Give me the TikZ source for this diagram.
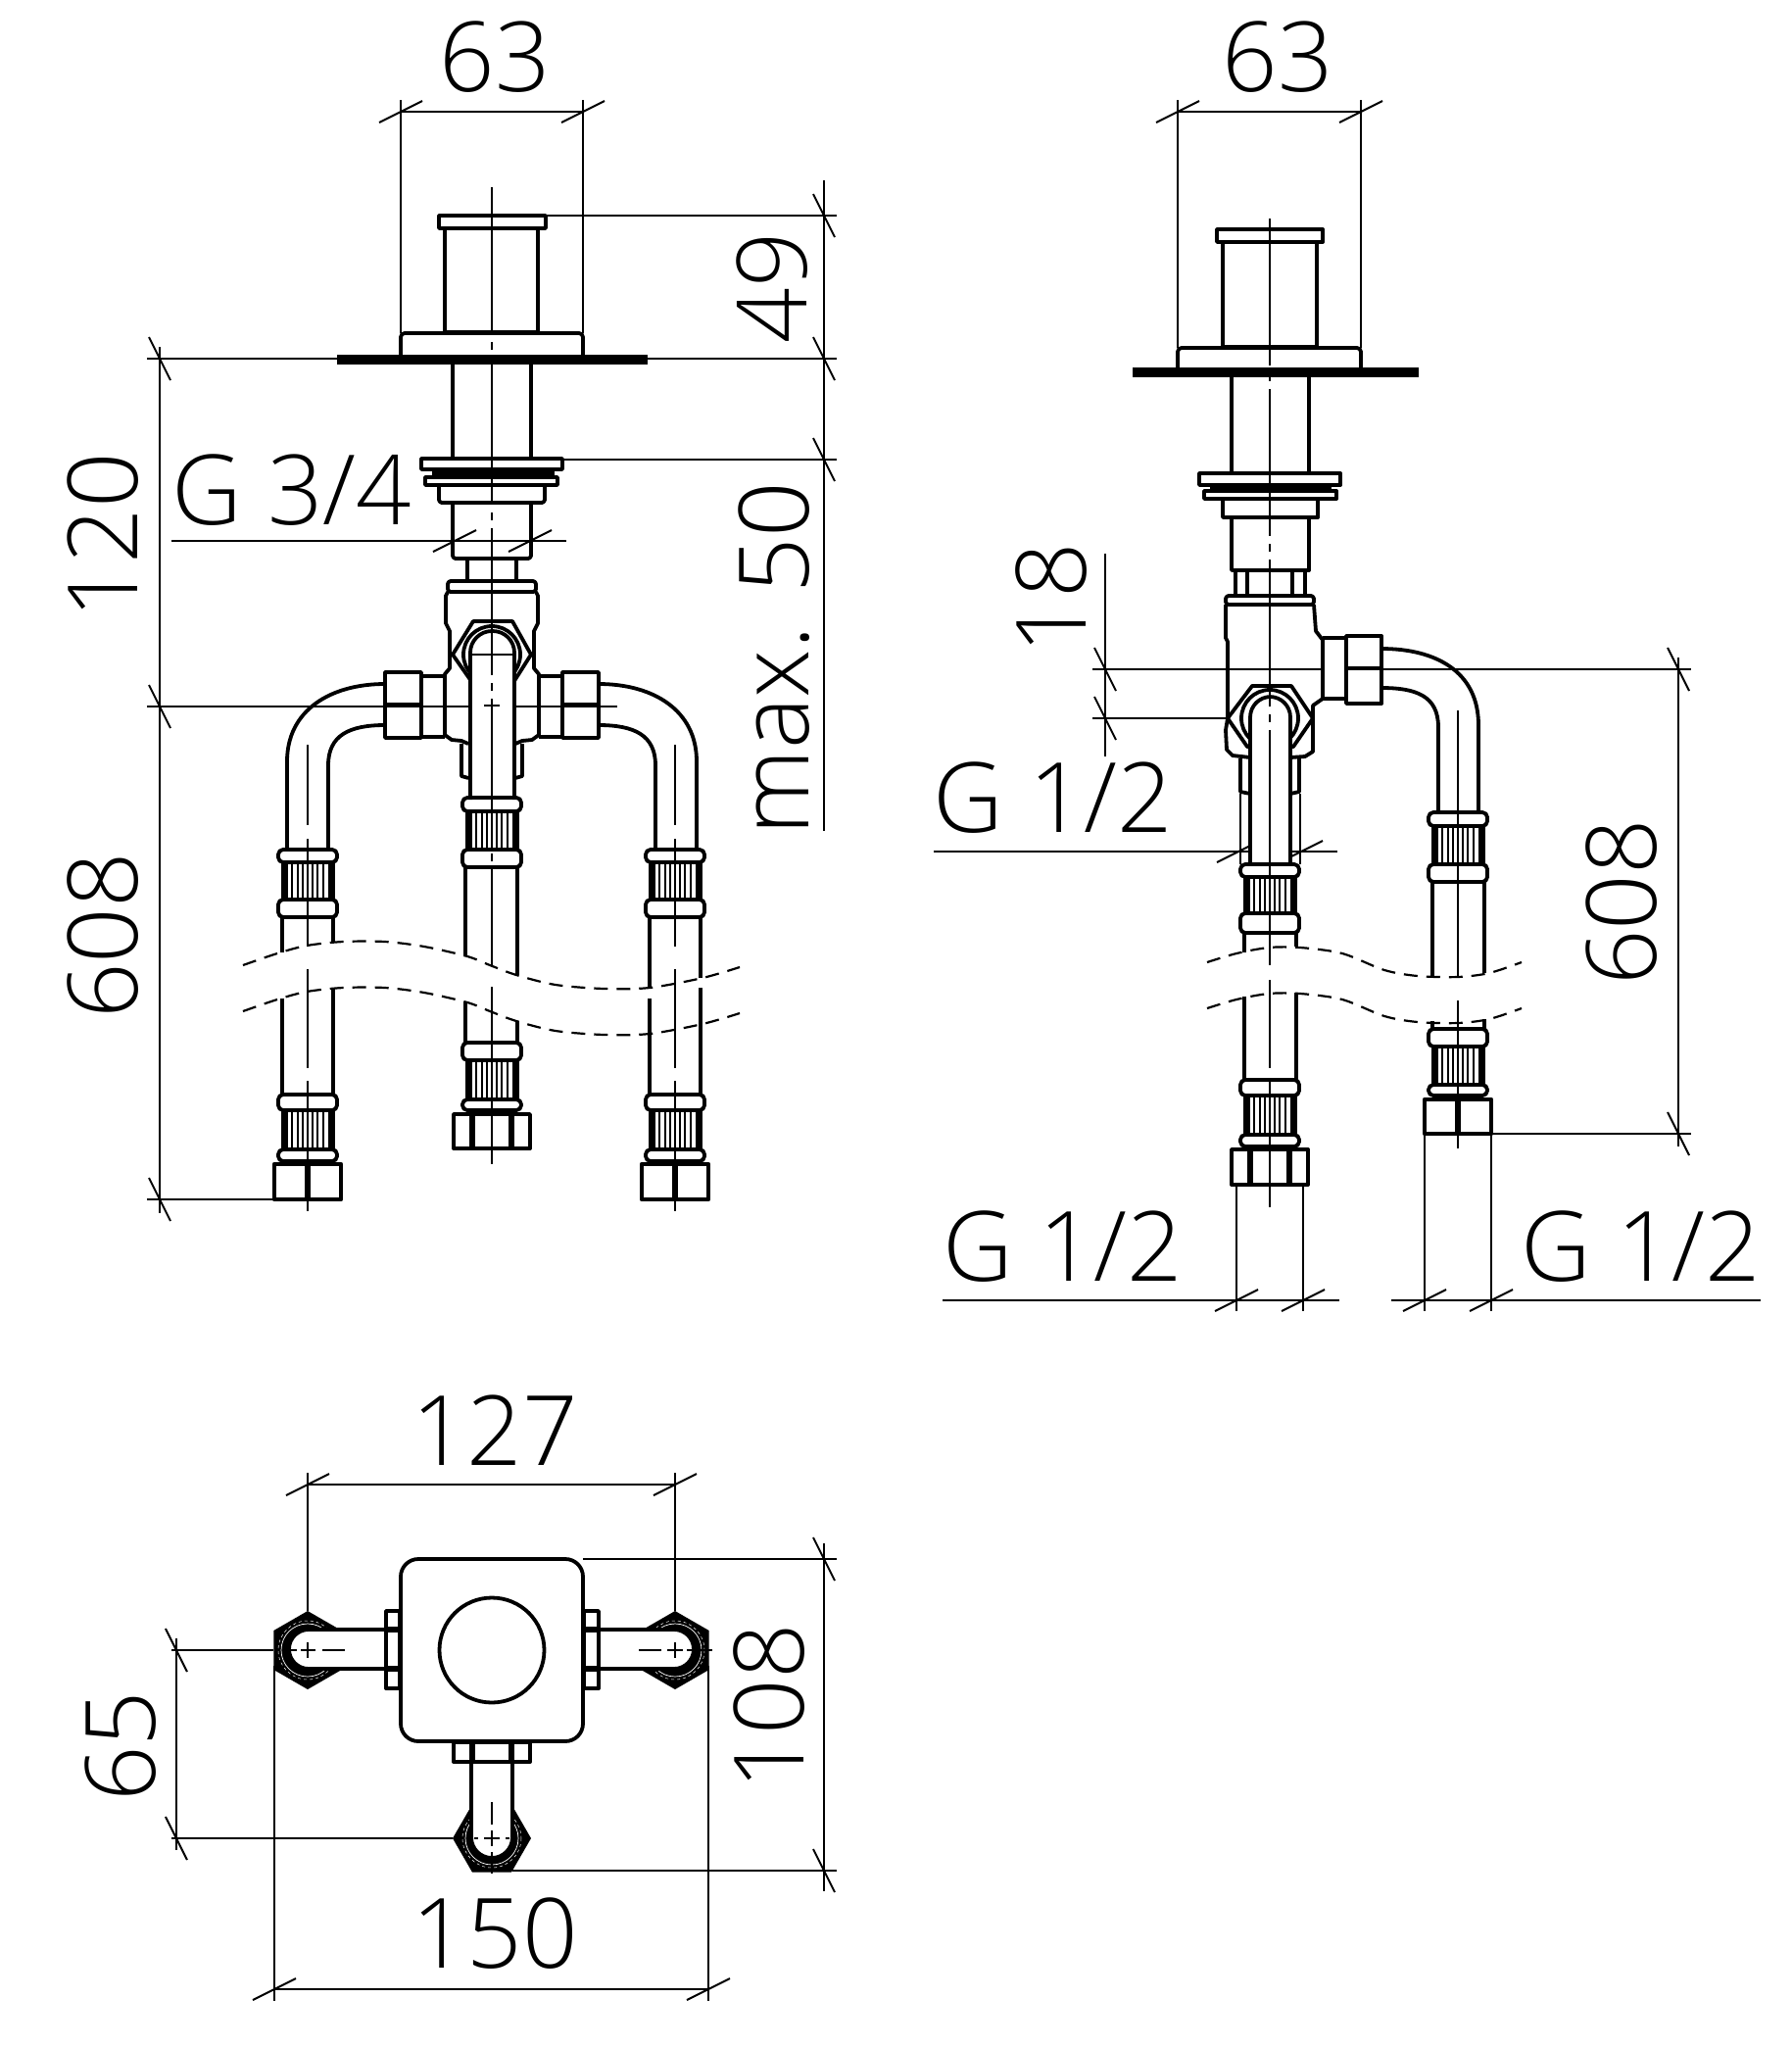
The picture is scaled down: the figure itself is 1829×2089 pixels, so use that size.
\documentclass[tikz,border=0pt]{standalone}
\usepackage{fontspec}
\newfontfamily\dimfont{Open Sans}[UprightFont=* Light]
\tikzset{
	part/.style={line width=3.8pt,line join=round},
	dimline/.style={line width=2pt},
	axisline/.style={line width=2pt},
	breakline/.style={line width=2.2pt,dash pattern=on 14pt off 9pt},
	dimtext/.style={font=\dimfont\fontsize{99}{99}\selectfont,inner sep=0pt}
}
% ticks of the dimension lines
\newcommand{\tickh}[2]{\draw[dimline] (#1-22,#2+11) -- (#1+22,#2-11);}
\newcommand{\tickv}[2]{\draw[dimline] (#1-11,#2-22) -- (#1+11,#2+22);}
% hose fittings: centre x, top y, bottom y
\newcommand{\ringpart}[3]{\draw[part,rounded corners=5pt] (#1-30,#2) rectangle (#1+30,#3);}
\newcommand{\knurlpart}[3]{
	\draw[line width=7pt] (#1-24,#2) -- (#1-24,#3) (#1+24,#2) -- (#1+24,#3);
	\foreach \kx in {-16,-10,-5,0,5,10,16}{\draw[line width=2.8pt] (#1+\kx,#2) -- (#1+\kx,#3);}
}
\newcommand{\nutflat}[3]{
	\draw[part,line width=4.5pt] (#1-34,#2) rectangle (#1+34,#3);
	\draw[line width=6pt] (#1,#2) -- (#1,#3);
}
\newcommand{\nutwide}[3]{
	\draw[part] (#1-39,#2) rectangle (#1+39,#3);
	\draw[line width=6pt] (#1-20,#2) -- (#1-20,#3) (#1+20,#2) -- (#1+20,#3);
}
% hexagon of the top view: centre x, centre y, start angle
\newcommand{\hexnut}[3]{
	\fill (#1,#2) +(#3:40) -- +(#3+60:40) -- +(#3+120:40) -- +(#3+180:40) -- +(#3+240:40) -- +(#3+300:40) -- cycle;
	\draw[white,line width=.7pt] (#1,#2) circle[radius=27];
	\draw[white,line width=.5pt,dashed] (#1,#2) circle[radius=30];
}
\begin{document}
\begin{tikzpicture}[x=1pt,y=-1pt]
	\useasboundingbox (0,0) rectangle (1829,2089);
	% dimensions of the front view
	\draw[dimline] (409,102) -- (409,340) (595,102) -- (595,340) (409,114) -- (595,114);
	\tickh{409}{114} \tickh{595}{114}
	\node[dimtext] (widthl) at (505,58) {63};
	\draw[dimline] (841,184) -- (841,848) (557,220) -- (854,220) (661,366) -- (854,366) (574,469) -- (854,469);
	\tickv{841}{220} \tickv{841}{366} \tickv{841}{469}
	\node[dimtext,rotate=90] (heightcap) at (788,294) {49};
	\node[dimtext,rotate=90] (heightmax) at (790,672) {max. 50};
	\draw[dimline] (163,354) -- (163,1238) (150,366) -- (344,366) (150,721) -- (480,721) (525,721) -- (630,721) (150,1224) -- (280,1224);
	\tickv{163}{366} \tickv{163}{721} \tickv{163}{1224}
	\node[dimtext,rotate=90] (heightbody) at (105,547) {120};
	\node[dimtext,rotate=90] (lengthl) at (105,955) {608};
	\draw[dimline] (175,552) -- (578,552);
	\tickh{464}{552} \tickh{541}{552}
	\node[dimtext] (threadl) at (298,500) {G 3/4};
	% front view
	\draw[part] (448,220) rectangle (557,233);
	\draw[part] (454,233) rectangle (549,339);
	\draw[part,rounded corners=4pt] (409,362) -- (409,340) -- (595,340) -- (595,362);
	\fill (344,362) rectangle (661,372);
	\draw[part] (462,372) -- (462,468) (542,372) -- (542,468);
	\draw[part] (430,468) rectangle (574,479);
	\fill (441,479) rectangle (566,487);
	\draw[part] (434,487) rectangle (569,495);
	\draw[part,rounded corners=3pt] (448,495) -- (448,513) -- (556,513) -- (556,495);
	\draw[part,rounded corners=3pt] (462,513) -- (462,570) -- (542,570) -- (542,513);
	\draw[part] (477,570) -- (477,593) (527,570) -- (527,593);
	\draw[part,rounded corners=3pt] (457,604) -- (457,593) -- (547,593) -- (547,604) -- cycle;
	\foreach \sx in {-1,1}{
		\draw[part] (502+\sx*45,604) -- (502+\sx*47,608) -- (502+\sx*47,636) -- (502+\sx*43,644) -- (502+\sx*43,682) -- (502+\sx*48,688) -- (502+\sx*48,750) -- (502+\sx*41,755) -- (502+\sx*31,756) -- (502+\sx*24,759);
		\draw[part] (502+\sx*72,690) -- (502+\sx*48,690) (502+\sx*72,752) -- (502+\sx*48,752);
		\draw[part] (502+\sx*109,686) rectangle (502+\sx*72,753);
		\draw[part,line width=4.5pt] (502+\sx*109,719) -- (502+\sx*72,719);
		\draw[part] (502+\sx*109,698) .. controls (502+\sx*165,698) and (502+\sx*209,725) .. (502+\sx*209,777) -- (502+\sx*209,867);
		\draw[part] (502+\sx*109,740) .. controls (502+\sx*145,740) and (502+\sx*167,750) .. (502+\sx*167,781) -- (502+\sx*167,867);
		\draw[part] (502+\sx*31,759) -- (502+\sx*31,792) -- (502+\sx*24,794);
	}
	\draw[part,fill=white] (462,668) -- (483,634) -- (523,634) -- (542,668) -- (523,698) -- (483,698) -- cycle;
	\draw[part] (502,668) circle[radius=29];
	\draw[part,fill=white,rounded corners=22pt] (480,816) -- (480,644) -- (525,644) -- (525,816);
	\foreach \cx in {314,689}{
		\ringpart{\cx}{867}{880}
		\knurlpart{\cx}{880}{918}
		\ringpart{\cx}{918}{936}
		\draw[part] (\cx-26,1117) -- (\cx-26,1019) (\cx+26,1117) -- (\cx+26,1008);
		\ringpart{\cx}{1117}{1133}
		\knurlpart{\cx}{1133}{1173}
		\ringpart{\cx}{1173}{1185}
		\nutflat{\cx}{1188}{1224}
		\draw[axisline] (\cx,760) -- (\cx,842) (\cx,856) -- (\cx,966) (\cx,989) -- (\cx,1090) (\cx,1103) -- (\cx,1236);
	}
	\draw[part] (288,936) -- (288,972) (340,936) -- (340,962);
	\draw[part] (663,936) -- (663,1008) (715,936) -- (715,998);
	\ringpart{502}{814}{828}
	\knurlpart{502}{828}{867}
	\ringpart{502}{867}{885}
	\draw[part] (475,885) -- (475,976) (528,885) -- (528,995) (475,1022) -- (475,1064) (528,1042) -- (528,1064);
	\ringpart{502}{1064}{1082}
	\knurlpart{502}{1082}{1122}
	\ringpart{502}{1122}{1133}
	\nutwide{502}{1137}{1172}
	\draw[axisline,dash pattern=on 150pt off 8pt on 8pt off 8pt] (502,191) -- (502,985);
	\draw[axisline] (502,1007) -- (502,1188);
	\draw[axisline] (478,668) -- (526,668);
	\draw[axisline] (494,720) -- (510,720);
	\foreach \dy in {0,47}{
		\draw[breakline] plot[smooth] coordinates {(248,985+\dy) (283,973+\dy) (313,965+\dy) (350,961+\dy) (393,961+\dy) (433,966+\dy) (477,976+\dy) (500,985+\dy) (527,995+\dy) (567,1005+\dy) (617,1009+\dy) (663,1008+\dy) (717,998+\dy) (755,987+\dy)};
	}
	% dimensions of the side view
	\draw[dimline] (1202,102) -- (1202,355) (1389,102) -- (1389,355) (1202,114) -- (1389,114);
	\tickh{1202}{114} \tickh{1389}{114}
	\node[dimtext] (widthr) at (1304,58) {63};
	\draw[dimline] (1128,565) -- (1128,772) (1115,683) -- (1350,683) (1410,683) -- (1726,683) (1115,733) -- (1330,733);
	\tickv{1128}{683} \tickv{1128}{733}
	\node[dimtext,rotate=90] (offsetr) at (1073,611) {18};
	\draw[dimline] (953,869) -- (1365,869);
	\tickh{1264}{869} \tickh{1328}{869}
	\node[dimtext] (threadr) at (1075,814) {G 1/2};
	\draw[dimline] (1713,671) -- (1713,1170) (1523,1157) -- (1726,1157);
	\tickv{1713}{683} \tickv{1713}{1157}
	\node[dimtext,rotate=90] (lengthr) at (1655,921) {608};
	\draw[dimline] (1262,1209) -- (1262,1338) (1330,1209) -- (1330,1338) (962,1327) -- (1367,1327);
	\tickh{1262}{1327} \tickh{1330}{1327}
	\node[dimtext] (threadb) at (1085,1272) {G 1/2};
	\draw[dimline] (1454,1157) -- (1454,1338) (1522,1157) -- (1522,1338) (1420,1327) -- (1797,1327);
	\tickh{1454}{1327} \tickh{1522}{1327}
	\node[dimtext] (threadc) at (1675,1272) {G 1/2};
	% side view
	\draw[part] (1242,234) rectangle (1350,247);
	\draw[part] (1248,247) rectangle (1344,354);
	\draw[part,rounded corners=4pt] (1202,375) -- (1202,355) -- (1389,355) -- (1389,375);
	\fill (1156,375) rectangle (1448,385);
	\draw[part] (1257,385) -- (1257,483) (1336,385) -- (1336,483);
	\draw[part] (1224,483) rectangle (1368,495);
	\fill (1235,495) rectangle (1359,501);
	\draw[part] (1229,501) rectangle (1364,509);
	\draw[part] (1248,509) -- (1248,528) -- (1345,528) -- (1345,509);
	\draw[part] (1257,528) -- (1257,582) -- (1336,582) -- (1336,528);
	\draw[part] (1261,582) -- (1261,608) (1273,582) -- (1273,608) (1319,582) -- (1319,608) (1332,582) -- (1332,608);
	\draw[part,rounded corners=3pt] (1251,617) -- (1251,608) -- (1341,608) -- (1341,617) -- cycle;
	\draw[part] (1251,617) -- (1251,651) -- (1253,655) -- (1253,733) -- (1251,745) -- (1252,765) -- (1258,771) -- (1276,773);
	\draw[part] (1341,617) -- (1343,644) -- (1350,653) -- (1350,713) -- (1340,720) -- (1340,767) -- (1332,772) -- (1317,773);
	\draw[part] (1350,651) -- (1373,651) (1350,713) -- (1373,713);
	\draw[part] (1374,649) rectangle (1410,718);
	\draw[part,line width=4.5pt] (1374,682) -- (1410,682);
	\draw[part] (1410,662) .. controls (1465,662) and (1509,685) .. (1509,740) -- (1509,829);
	\draw[part] (1410,702) .. controls (1445,702) and (1468,710) .. (1468,742) -- (1468,829);
	\draw[part] (1266,774) -- (1266,808) -- (1276,810) (1326,774) -- (1326,808) -- (1317,810);
	\draw[dimline] (1266,810) -- (1266,882) (1327,810) -- (1327,882);
	\draw[part,fill=white] (1253,733) -- (1278,700) -- (1318,700) -- (1340,733) -- (1320,762) -- (1273,762) -- cycle;
	\draw[part] (1296,733) circle[radius=29];
	\draw[part,fill=white,rounded corners=21pt] (1276,883) -- (1276,711) -- (1317,711) -- (1317,883);
	\ringpart{1296}{882}{895}
	\knurlpart{1296}{895}{932}
	\ringpart{1296}{932}{952}
	\draw[part] (1270,952) -- (1270,972) (1323,952) -- (1323,966) (1270,1017) -- (1270,1102) (1323,1013) -- (1323,1102);
	\ringpart{1296}{1102}{1118}
	\knurlpart{1296}{1118}{1158}
	\ringpart{1296}{1158}{1170}
	\nutwide{1296}{1173}{1209}
	\ringpart{1488}{829}{843}
	\knurlpart{1488}{843}{882}
	\ringpart{1488}{882}{900}
	\draw[part] (1462,900) -- (1462,998) (1515,900) -- (1515,993) (1462,1042) -- (1462,1050) (1515,1040) -- (1515,1050);
	\ringpart{1488}{1050}{1068}
	\knurlpart{1488}{1068}{1107}
	\ringpart{1488}{1107}{1118}
	\nutflat{1488}{1122}{1157}
	\draw[axisline,dash pattern=on 150pt off 8pt on 8pt off 8pt] (1296,223) -- (1296,985);
	\draw[axisline] (1296,1000) -- (1296,1090) (1296,1103) -- (1296,1232);
	\draw[axisline] (1488,725) -- (1488,860) (1488,872) -- (1488,997) (1488,1021) -- (1488,1172);
	\foreach \dy in {0,47}{
		\draw[breakline] plot[smooth] coordinates {(1232,982+\dy) (1262,973+\dy) (1295,967+\dy) (1327,967+\dy) (1370,973+\dy) (1413,990+\dy) (1447,996+\dy) (1488,997+\dy) (1520,993+\dy) (1553,982+\dy)};
	}
	% dimensions of the top view
	\draw[dimline] (314,1503) -- (314,1644) (689,1503) -- (689,1644) (314,1515) -- (689,1515);
	\tickh{314}{1515} \tickh{689}{1515}
	\node[dimtext] (spacing) at (505,1460) {127};
	\draw[dimline] (841,1575) -- (841,1930) (595,1591) -- (854,1591) (523,1909) -- (854,1909);
	\tickv{841}{1591} \tickv{841}{1909}
	\node[dimtext,rotate=90] (depth) at (785,1742) {108};
	\draw[dimline] (180,1672) -- (180,1888) (175,1684) -- (279,1684) (175,1876) -- (462,1876);
	\tickv{180}{1684} \tickv{180}{1876}
	\node[dimtext,rotate=90] (offset) at (123,1782) {65};
	\draw[dimline] (280,1700) -- (280,2042) (723,1700) -- (723,2042) (280,2030) -- (723,2030);
	\tickh{280}{2030} \tickh{723}{2030}
	\node[dimtext] (span) at (505,1973) {150};
	% top view
	\draw[part,rounded corners=18pt] (409,1591) rectangle (595,1777);
	\draw[part] (502,1684) circle[radius=53.5];
	\hexnut{314}{1684}{30}
	\hexnut{689}{1684}{30}
	\hexnut{502}{1876}{0}
	\draw[part,fill=white,rounded corners=20pt] (393,1663) -- (295,1663) -- (295,1703) -- (393,1703);
	\draw[part,fill=white,rounded corners=20pt] (612,1663) -- (708,1663) -- (708,1703) -- (612,1703);
	\draw[part,fill=white,rounded corners=21pt] (481,1798) -- (481,1896) -- (523,1896) -- (523,1798);
	\draw[part] (394,1644) rectangle (408,1723);
	\draw[part] (596,1644) rectangle (611,1723);
	\draw[part] (463,1778) rectangle (541,1798);
	\draw[line width=6pt] (394,1663) -- (408,1663) (394,1703) -- (408,1703) (596,1663) -- (611,1663) (596,1703) -- (611,1703) (482,1778) -- (482,1798) (522,1778) -- (522,1798);
	\draw[axisline] (296,1684) -- (303,1684) (307,1684) -- (322,1684) (329,1684) -- (352,1684) (314,1676) -- (314,1692);
	\draw[axisline] (652,1684) -- (675,1684) (681,1684) -- (697,1684) (701,1684) -- (727,1684) (689,1676) -- (689,1692);
	\draw[axisline] (502,1839) -- (502,1862) (502,1868) -- (502,1884) (502,1890) -- (502,1912) (494,1876) -- (510,1876) (484,1876) -- (488,1876) (516,1876) -- (520,1876);
\end{tikzpicture}
\end{document}
